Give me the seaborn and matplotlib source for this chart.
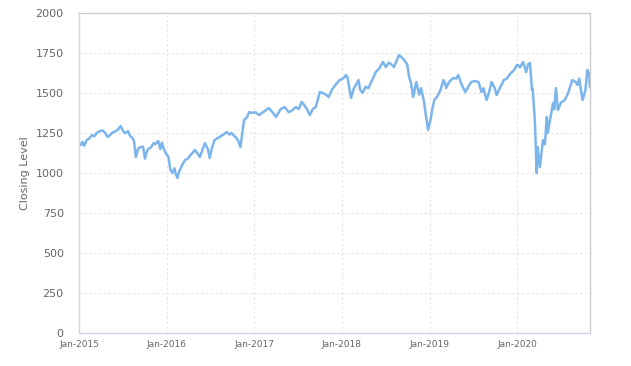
import matplotlib
matplotlib.use("Agg")
import matplotlib.pyplot as plt
import seaborn as sns
import pandas as pd

dates = [
    # 2015
    "2015-01-02", "2015-01-09", "2015-01-16", "2015-01-23", "2015-02-02", "2015-02-12",
    "2015-02-24", "2015-03-06", "2015-03-16", "2015-03-28", "2015-04-10", "2015-04-20",
    "2015-05-01", "2015-05-13", "2015-05-22", "2015-06-01", "2015-06-12", "2015-06-24",
    "2015-07-06", "2015-07-15", "2015-07-24", "2015-08-03", "2015-08-12", "2015-08-18",
    "2015-08-26", "2015-09-04", "2015-09-12", "2015-09-25", "2015-10-03", "2015-10-10",
    "2015-10-16", "2015-10-28", "2015-11-08", "2015-11-15", "2015-11-27", "2015-12-06",
    "2015-12-13", "2015-12-18", "2015-12-28",
    # 2016
    "2016-01-09", "2016-01-17", "2016-01-25", "2016-02-03", "2016-02-07", "2016-02-15",
    "2016-02-23", "2016-03-06", "2016-03-18", "2016-03-30", "2016-04-08", "2016-04-18",
    "2016-04-28", "2016-05-10", "2016-05-19", "2016-05-31", "2016-06-09", "2016-06-21",
    "2016-06-29", "2016-07-07", "2016-07-19", "2016-07-29", "2016-08-09", "2016-08-25",
    "2016-09-07", "2016-09-19", "2016-09-28", "2016-10-10", "2016-10-18", "2016-10-26",
    "2016-11-04", "2016-11-12", "2016-11-19", "2016-12-02", "2016-12-10", "2016-12-22",
    # 2017
    "2017-01-05", "2017-01-21", "2017-02-11", "2017-03-02", "2017-03-23", "2017-04-01",
    "2017-04-21", "2017-05-08", "2017-05-24", "2017-06-06", "2017-06-23", "2017-07-05",
    "2017-07-17", "2017-07-25", "2017-08-08", "2017-08-20", "2017-09-02", "2017-09-14",
    "2017-10-01", "2017-10-13", "2017-10-26", "2017-11-07", "2017-11-20", "2017-11-28",
    "2017-12-10", "2017-12-22",
    # 2018
    "2018-01-09", "2018-01-17", "2018-01-24", "2018-02-08", "2018-02-20", "2018-02-28",
    "2018-03-11", "2018-03-18", "2018-03-28", "2018-04-10", "2018-04-22", "2018-05-01",
    "2018-05-13", "2018-05-22", "2018-06-04", "2018-06-21", "2018-07-03", "2018-07-15",
    "2018-07-24", "2018-08-06", "2018-08-19", "2018-08-27", "2018-09-09", "2018-09-17",
    "2018-09-30", "2018-10-08", "2018-10-16", "2018-10-25", "2018-11-07", "2018-11-19",
    "2018-11-27", "2018-12-10", "2018-12-18", "2018-12-26",
    # 2019
    "2019-01-05", "2019-01-13", "2019-01-21", "2019-02-03", "2019-02-16", "2019-02-28",
    "2019-03-07", "2019-03-11", "2019-03-24", "2019-04-10", "2019-04-22", "2019-05-01",
    "2019-05-13", "2019-05-30", "2019-06-12", "2019-06-24", "2019-07-10", "2019-07-24",
    "2019-08-06", "2019-08-14", "2019-08-27", "2019-09-09", "2019-09-17", "2019-09-30",
    "2019-10-08", "2019-10-21", "2019-11-07", "2019-11-19", "2019-12-06", "2019-12-18",
    "2019-12-31",
    # 2020
    "2020-01-05", "2020-01-13", "2020-01-26", "2020-02-08", "2020-02-16", "2020-02-24",
    "2020-03-03", "2020-03-06", "2020-03-15", "2020-03-23", "2020-03-27", "2020-04-05",
    "2020-04-18", "2020-04-26", "2020-05-04", "2020-05-08", "2020-05-16", "2020-05-30",
    "2020-06-04", "2020-06-11", "2020-06-19", "2020-07-02", "2020-07-18", "2020-08-01",
    "2020-08-18", "2020-09-01", "2020-09-09", "2020-09-16", "2020-09-30", "2020-10-12",
    "2020-10-20", "2020-10-28", "2020-10-30",
]

closing = [
    # 2015
    1190, 1175, 1195, 1170, 1205, 1215,
    1237, 1230, 1250, 1262, 1265, 1250,
    1225, 1240, 1255, 1260, 1270, 1294,
    1256, 1250, 1262, 1230, 1219, 1200,
    1100, 1150, 1160, 1165, 1090, 1130,
    1150, 1160, 1187, 1180, 1200, 1150,
    1190, 1160, 1125,
    # 2016
    1100, 1019, 1000, 1030, 1000, 969,
    1010, 1050, 1081, 1090, 1110, 1125,
    1144, 1120, 1100, 1150, 1187, 1150,
    1094, 1150, 1206, 1215, 1225, 1240,
    1256, 1240, 1250, 1230, 1219, 1200,
    1162, 1250, 1331, 1350, 1381, 1375,
    # 2017
    1380, 1362, 1385, 1406, 1370, 1350,
    1400, 1412, 1380, 1390, 1412, 1400,
    1444, 1430, 1400, 1362, 1400, 1412,
    1506, 1500, 1490, 1475, 1520, 1537,
    1560, 1580,
    # 2018
    1594, 1612, 1600, 1469, 1530, 1550,
    1581, 1520, 1500, 1540, 1530, 1562,
    1600, 1631, 1650, 1694, 1662, 1690,
    1681, 1662, 1710, 1737, 1720, 1706,
    1680, 1600, 1562, 1475, 1569, 1490,
    1530, 1437, 1350, 1269,
    # 2019
    1330, 1400, 1456, 1480, 1520, 1581,
    1560, 1531, 1570, 1594, 1590, 1612,
    1560, 1506, 1540, 1569, 1575, 1569,
    1506, 1530, 1456, 1520, 1569, 1530,
    1487, 1530, 1581, 1590, 1625, 1640,
    1675,
    # 2020
    1675, 1660, 1694, 1631, 1680, 1687,
    1519, 1530, 1331, 1000, 1162, 1037,
    1206, 1180, 1350, 1250, 1320, 1437,
    1400, 1531, 1394, 1440, 1456, 1500,
    1581, 1570, 1550, 1590, 1456, 1520,
    1644, 1620, 1540,
]

y_ticks = [0, 250, 500, 750, 1000, 1250, 1500, 1750, 2000]
x_tick_dates = ["2015-01-01", "2016-01-01", "2017-01-01", "2018-01-01", "2019-01-01", "2020-01-01"]
x_tick_labels = ["Jan-2015", "Jan-2016", "Jan-2017", "Jan-2018", "Jan-2019", "Jan-2020"]

df = pd.DataFrame({"Date": pd.to_datetime(dates), "Closing Level": closing})

sns.set_theme(style="white")
plt.rcParams['font.family'] = ['DejaVu Sans']

fig = plt.figure(figsize=(6.31, 3.66), dpi=100)
ax = fig.add_axes([79 / 631, 1 - 333 / 366, (590 - 79) / 631, (333 - 13) / 366])

sns.lineplot(data=df, x="Date", y="Closing Level", ax=ax, color="#7cb5ec", linewidth=1.8)

ax.set_xlim(pd.Timestamp("2015-01-01"), pd.Timestamp("2020-10-31"))
ax.set_ylim(0, 2000)
ax.set_yticks(y_ticks)
ax.set_yticklabels([str(v) for v in y_ticks])
ax.set_xticks(pd.to_datetime(x_tick_dates))
ax.set_xticklabels(x_tick_labels)

ax.grid(True, which="major", axis="both", linestyle=(0, (2.5, 2.5)), color="#e3e3e3", linewidth=0.7)
ax.set_axisbelow(True)

for side in ["left", "bottom"]:
    ax.spines[side].set_color("#ccd6eb")
    ax.spines[side].set_linewidth(1)
for side in ["top", "right"]:
    ax.spines[side].set_color("#cccccc")
    ax.spines[side].set_linewidth(1)

ax.tick_params(axis="y", length=0, pad=11, labelsize=8, labelcolor="#666666")
ax.tick_params(axis="x", length=0, pad=5, labelsize=6.5, labelcolor="#666666")
ax.set_xlabel("")
ax.set_ylabel("Closing Level", fontsize=8, color="#666666", labelpad=4)

fig.savefig("out.png", dpi=100)
